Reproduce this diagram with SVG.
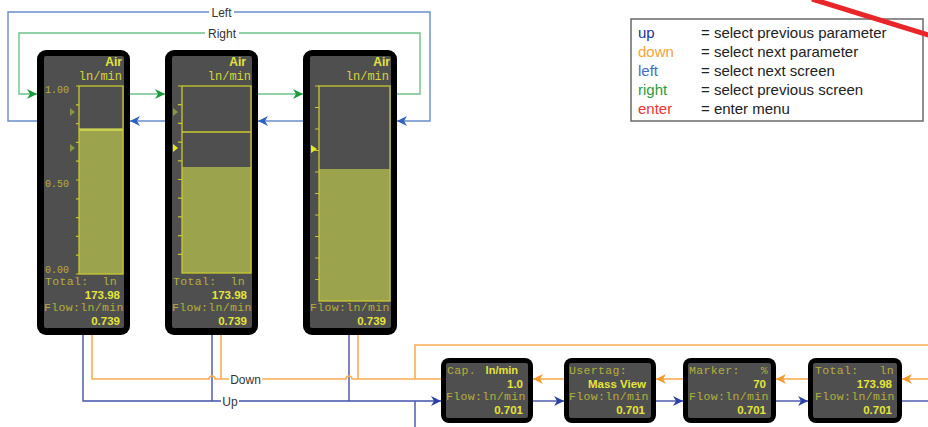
<svg xmlns="http://www.w3.org/2000/svg" width="928" height="427" viewBox="0 0 928 427">
<style>
.frame{fill:#000}
.lcd{fill:#4f4f50}
.bar{fill:none;stroke:#c9c92e;stroke-width:1.3}
.fill{fill:#9ba44c}
.tick{stroke:#c9c92e;stroke-width:1.2}
.mono{font-family:"Liberation Mono",monospace;font-size:11.5px;letter-spacing:0.35px;fill:#b3b03a}
.unit{font-family:"Liberation Mono",monospace;font-size:12px;fill:#d6d63a}
.small{font-family:"Liberation Mono",monospace;font-size:10px;fill:#b3b03a}
.bold{font-family:"Liberation Sans",Arial,sans-serif;font-weight:bold;font-size:11.5px;fill:#e4e43a}
.lbl{font-family:"Liberation Sans",Arial,sans-serif;font-size:12px;fill:#333}
.leg{font-family:"Liberation Sans",Arial,sans-serif;font-size:15px}
.left{fill:none;stroke:#6a8ccc;stroke-width:1.4}
.right{fill:none;stroke:#6cc488;stroke-width:1.4}
.up{fill:none;stroke:#4452ac;stroke-width:1.4}
.down{fill:none;stroke:#f8ad52;stroke-width:1.6}
.tri-dim{fill:#8c9640}
.tri-on{fill:#eaea20}
</style>
<defs>
<marker id="aBlue" viewBox="0 0 10 10" refX="10" refY="5" markerWidth="13" markerHeight="10" orient="auto" markerUnits="userSpaceOnUse"><path d="M0,0 L10,5 L0,10 L3,5 z" fill="#3060c0"/></marker>
<marker id="aGreen" viewBox="0 0 10 10" refX="10" refY="5" markerWidth="13" markerHeight="10" orient="auto" markerUnits="userSpaceOnUse"><path d="M0,0 L10,5 L0,10 L3,5 z" fill="#1c9a40"/></marker>
<marker id="aUp" viewBox="0 0 10 10" refX="10" refY="5" markerWidth="13" markerHeight="10" orient="auto" markerUnits="userSpaceOnUse"><path d="M0,0 L10,5 L0,10 L3,5 z" fill="#2c40a8"/></marker>
<marker id="aDown" viewBox="0 0 10 10" refX="10" refY="5" markerWidth="13" markerHeight="10" orient="auto" markerUnits="userSpaceOnUse"><path d="M0,0 L10,5 L0,10 L3,5 z" fill="#f39a2c"/></marker>
</defs>
<rect width="928" height="427" fill="#fff"/>

<g id="connectors">
<path class="left" d="M37,121 H8 V12 H430 V121 H397" marker-end="url(#aBlue)"/>
<path class="left" d="M165,121 H130" marker-end="url(#aBlue)"/>
<path class="left" d="M303,121 H258" marker-end="url(#aBlue)"/>
<path class="right" d="M397,94 H420 V33 H19 V94 H37" marker-end="url(#aGreen)"/>
<path class="right" d="M130,94 H165" marker-end="url(#aGreen)"/>
<path class="right" d="M258,94 H303" marker-end="url(#aGreen)"/>
<rect x="209" y="5" width="25" height="14" fill="#fff"/>
<text class="lbl" x="221.5" y="16.5" text-anchor="middle">Left</text>
<rect x="205" y="26" width="34" height="14" fill="#fff"/>
<text class="lbl" x="222" y="37.5" text-anchor="middle">Right</text>

<path class="up" d="M83,335 V401 H441" marker-end="url(#aUp)"/>
<path class="up" d="M212,335 V401"/>
<path class="up" d="M349,335 V401"/>
<path class="up" d="M415,401 V427"/>
<path class="up" d="M533,401 H564" marker-end="url(#aUp)"/>
<path class="up" d="M656,401 H683" marker-end="url(#aUp)"/>
<path class="up" d="M776,401 H808" marker-end="url(#aUp)"/>
<path class="up" d="M902,401 H928"/>
<path class="down" d="M92,335 V379 H209 a3,3 0 0 1 6,0 H346 a3,3 0 0 1 6,0 H441"/>
<path class="down" d="M221,335 V379"/>
<path class="down" d="M358,335 V379"/>
<path class="down" d="M415,379 V345 H928"/>
<path class="down" d="M564,379 H533" marker-end="url(#aDown)"/>
<path class="down" d="M683,379 H656" marker-end="url(#aDown)"/>
<path class="down" d="M808,379 H776" marker-end="url(#aDown)"/>
<path class="down" d="M928,379 H902" marker-end="url(#aDown)"/>
<rect x="229" y="372" width="33" height="14" fill="#fff"/>
<text class="lbl" x="245.5" y="383.5" text-anchor="middle">Down</text>
<rect x="221" y="394" width="18" height="14" fill="#fff"/>
<text class="lbl" x="230" y="405.5" text-anchor="middle">Up</text>
</g>

<g id="panel1">
<rect class="frame" x="37" y="50" width="93" height="285" rx="9"/>
<rect class="lcd" x="44" y="56" width="80" height="272" rx="2"/>
<text class="bold" x="122" y="66" text-anchor="end" style="font-size:12px">Air</text>
<text class="unit" x="122" y="80" text-anchor="end">ln/min</text>
<rect class="fill" x="79" y="128" width="44" height="146"/>
<line x1="79" y1="130" x2="123" y2="130" stroke="#c8d050" stroke-width="2"/>
<rect class="bar" x="79" y="86" width="44" height="188"/>
<path class="tick" d="M76,86H79M76,104.8H79M76,123.6H79M76,142.4H79M76,161.2H79M76,180H79M76,198.8H79M76,217.6H79M76,236.4H79M76,255.2H79M76,274H79"/>
<text class="small" x="45" y="93">1.00</text>
<text class="small" x="45" y="187">0.50</text>
<text class="small" x="45" y="272.5">0.00</text>
<path class="tri-dim" d="M70,108 L75,112 L70,116 z"/>
<path class="tri-dim" d="M70,144 L75,148 L70,152 z"/>
<text class="mono" x="45" y="285">Total:</text>
<text class="mono" x="117" y="285" text-anchor="end">ln</text>
<text class="bold" x="120" y="299" text-anchor="end">173.98</text>
<text class="mono" x="44" y="311">Flow:ln/min</text>
<text class="bold" x="120" y="325" text-anchor="end">0.739</text>
</g>

<g id="panel2">
<rect class="frame" x="165" y="50" width="93" height="285" rx="9"/>
<rect class="lcd" x="172" y="56" width="80" height="272" rx="2"/>
<text class="bold" x="246" y="66" text-anchor="end" style="font-size:12px">Air</text>
<text class="unit" x="251" y="80" text-anchor="end">ln/min</text>
<rect class="fill" x="182" y="167" width="69" height="106"/>
<line x1="182" y1="132" x2="251" y2="132" stroke="#c9c92e" stroke-width="1.5"/>
<rect class="bar" x="182" y="86" width="69" height="187"/>
<path class="tick" d="M178,86H182M178,104.7H182M178,123.4H182M178,142.1H182M178,160.8H182M178,179.5H182M178,198.2H182M178,216.9H182M178,235.6H182M178,254.3H182"/>
<path class="tri-dim" d="M173,108 L178,112 L173,116 z"/>
<path class="tri-on" d="M173,144 L178,148 L173,152 z"/>
<text class="mono" x="173" y="285">Total:</text>
<text class="mono" x="245" y="285" text-anchor="end">ln</text>
<text class="bold" x="247" y="299" text-anchor="end">173.98</text>
<text class="mono" x="172" y="311">Flow:ln/min</text>
<text class="bold" x="247" y="325" text-anchor="end">0.739</text>
</g>

<g id="panel3">
<rect class="frame" x="303" y="50" width="94" height="285" rx="9"/>
<rect class="lcd" x="310" y="56" width="81" height="272" rx="2"/>
<text class="bold" x="390" y="66" text-anchor="end" style="font-size:12px">Air</text>
<text class="unit" x="389" y="80" text-anchor="end">ln/min</text>
<rect class="fill" x="319" y="169" width="71" height="132"/>
<rect class="bar" x="319" y="86" width="71" height="215"/>
<path class="tick" d="M315,86H319M315,107.5H319M315,129H319M315,150.5H319M315,172H319M315,193.5H319M315,215H319M315,236.5H319M315,258H319M315,279.5H319"/>
<path class="tri-on" d="M311,145 L317,149 L311,153 z"/>
<text class="mono" x="310" y="311">Flow:ln/min</text>
<text class="bold" x="386" y="325" text-anchor="end">0.739</text>
</g>

<g id="box1">
<rect class="frame" x="441" y="358" width="92" height="65" rx="8"/>
<rect class="lcd" x="446" y="363" width="82" height="55" rx="2"/>
<text class="mono" x="447" y="373.5">Cap.</text>
<text class="bold" x="518" y="373.5" text-anchor="end" style="font-size:11px">ln/min</text>
<text class="bold" x="523" y="387.5" text-anchor="end">1.0</text>
<text class="mono" x="446" y="400">Flow:ln/min</text>
<text class="bold" x="523" y="414" text-anchor="end">0.701</text>
</g>

<g id="box2">
<rect class="frame" x="564" y="358" width="92" height="65" rx="8"/>
<rect class="lcd" x="569" y="363" width="82" height="55" rx="2"/>
<text class="mono" x="569" y="373.5">Usertag:</text>
<text class="bold" x="646" y="387.5" text-anchor="end">Mass View</text>
<text class="mono" x="569" y="400">Flow:ln/min</text>
<text class="bold" x="645" y="414" text-anchor="end">0.701</text>
</g>

<g id="box3">
<rect class="frame" x="683" y="358" width="93" height="65" rx="8"/>
<rect class="lcd" x="688" y="363" width="83" height="55" rx="2"/>
<text class="mono" x="689" y="373.5">Marker:</text>
<text class="mono" x="768" y="373.5" text-anchor="end">%</text>
<text class="bold" x="766" y="387.5" text-anchor="end">70</text>
<text class="mono" x="689" y="400">Flow:ln/min</text>
<text class="bold" x="766" y="414" text-anchor="end">0.701</text>
</g>

<g id="box4">
<rect class="frame" x="808" y="358" width="94" height="65" rx="8"/>
<rect class="lcd" x="813" y="363" width="84" height="55" rx="2"/>
<text class="mono" x="815" y="373.5">Total:</text>
<text class="mono" x="894" y="373.5" text-anchor="end">ln</text>
<text class="bold" x="892" y="387.5" text-anchor="end">173.98</text>
<text class="mono" x="815" y="400">Flow:ln/min</text>
<text class="bold" x="892" y="414" text-anchor="end">0.701</text>
</g>

<g id="legend">
<rect x="631" y="19" width="292" height="102" fill="#fff" stroke="#6a6a6a" stroke-width="1.5"/>
<text class="leg" x="638" y="37.5" fill="#26339a">up</text>
<text class="leg" x="638" y="56.5" fill="#f6a43c">down</text>
<text class="leg" x="638" y="75.5" fill="#3f6ec4">left</text>
<text class="leg" x="638" y="94.5" fill="#2a9c3e">right</text>
<text class="leg" x="638" y="113.5" fill="#ec3535">enter</text>
<text class="leg" x="701" y="37.5" fill="#222">= select previous parameter</text>
<text class="leg" x="701" y="56.5" fill="#222">= select next parameter</text>
<text class="leg" x="701" y="75.5" fill="#222">= select next screen</text>
<text class="leg" x="701" y="94.5" fill="#222">= select previous screen</text>
<text class="leg" x="701" y="113.5" fill="#222">= enter menu</text>
</g>

<line id="red-line" x1="812" y1="-1" x2="932" y2="36" stroke="#e8262a" stroke-width="5"/>
</svg>
